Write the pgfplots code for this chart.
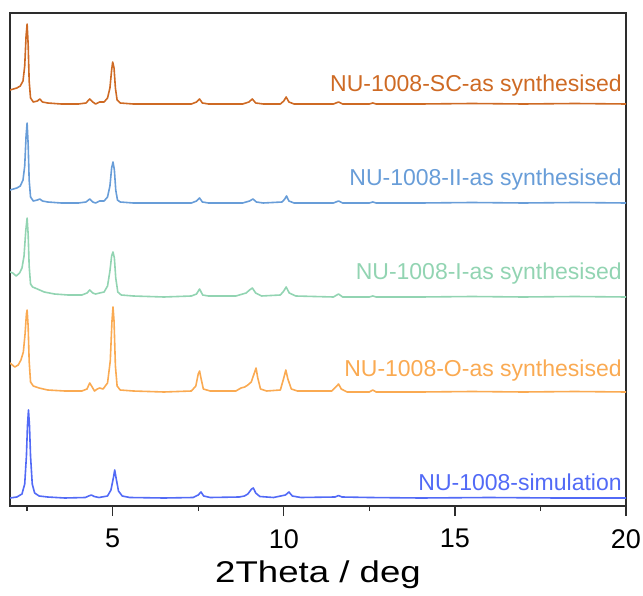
\documentclass[border=0pt]{standalone}
\usepackage{fontspec}
\setmainfont{Liberation Sans}
\usepackage{pgfplots}
\pgfplotsset{compat=1.18}

\definecolor{cSC}{RGB}{206,106,36}
\definecolor{cII}{RGB}{104,157,216}
\definecolor{cI}{RGB}{146,212,178}
\definecolor{cO}{RGB}{250,170,82}
\definecolor{cSim}{RGB}{82,106,246}
\definecolor{frame}{RGB}{45,45,45}

\begin{document}
\begin{tikzpicture}
\begin{axis}[
  scale only axis,
  width=616pt, height=493pt,
  xmin=2, xmax=20, ymin=0, ymax=493,
  axis line style={frame, line width=1.6pt},
  xtick={5,10,15,20},
  minor xtick={2.5,7.5,12.5,17.5},
  xtick pos=bottom,
  ytick=\empty,
  tick align=outside,
  major tick length=10pt,
  minor tick length=5pt,
  every tick/.style={frame, line width=1.4pt},
  /pgf/number format/assume math mode=true,
  xticklabel style={font=\fontsize{27}{31}\selectfont, inner sep=0pt, anchor=north, yshift=-13pt},
  xlabel={\scalebox{1.22}[1]{2Theta / deg}},
  xlabel style={font=\fontsize{30}{34}\selectfont, inner sep=0pt, at={(axis description cs:0.5,0)}, anchor=north, yshift=-55pt},
  every axis plot/.style={line width=1.6pt, line join=round},
  clip=true,
]
\coordinate (sw) at (rel axis cs:0,0);
\coordinate (ne) at (rel axis cs:1,1);

% NU-1008-SC-as synthesised
\addplot[cSC] coordinates {
(2.00,416) (2.10,417) (2.20,418) (2.30,420) (2.38,425) (2.43,440) (2.47,470) (2.50,482) (2.53,462) (2.56,425) (2.60,408) (2.68,404) (2.80,405) (2.87,407) (2.95,404) (3.10,403) (3.50,402) (4.00,402) (4.22,403) (4.33,407) (4.42,404) (4.50,402) (4.62,404) (4.75,404) (4.85,408) (4.92,418) (4.97,436) (5.00,444) (5.04,438) (5.08,418) (5.13,406) (5.22,403) (5.60,402) (6.50,402) (7.30,402) (7.45,404) (7.54,407) (7.62,403) (7.80,402) (8.80,402) (8.98,404) (9.08,407) (9.18,403) (9.40,402) (9.90,402) (10.00,405) (10.07,409) (10.15,404) (10.30,402) (11.45,402) (11.60,404) (11.72,402) (12.50,402) (12.60,403) (12.70,402) (14,402) (15.5,402.5) (17,402) (18.5,402.5) (20,402)
};
% NU-1008-II-as synthesised
\addplot[cII] coordinates {
(2.00,316) (2.10,317) (2.20,318) (2.30,320) (2.38,326) (2.43,340) (2.47,370) (2.50,383) (2.53,362) (2.56,326) (2.60,309) (2.68,305) (2.80,306) (2.87,307) (2.95,305) (3.10,304) (3.50,303) (4.00,303) (4.22,304) (4.33,307) (4.42,304) (4.50,303) (4.62,305) (4.75,305) (4.85,309) (4.92,320) (4.97,338) (5.01,344) (5.05,336) (5.09,316) (5.14,306) (5.22,304) (5.60,303) (6.50,303) (7.30,303) (7.45,305) (7.54,308) (7.62,304) (7.80,303) (8.80,303) (9.00,305) (9.10,307) (9.20,304) (9.40,303) (9.95,304) (10.03,307) (10.08,310) (10.15,305) (10.30,303) (11.45,303) (11.60,305) (11.72,303) (12.50,303) (12.60,304) (12.70,303) (14,303) (15.5,303.5) (17,303) (18.5,303.5) (20,303)
};
% NU-1008-I-as synthesised
\addplot[cI] coordinates {
(2.00,234) (2.08,233) (2.18,230) (2.28,233) (2.35,238) (2.41,250) (2.46,275) (2.50,288) (2.53,272) (2.56,240) (2.60,222) (2.66,219) (2.80,217) (3.00,214) (3.30,212) (3.70,211) (4.10,211) (4.25,213) (4.33,216) (4.42,213) (4.50,212) (4.62,213) (4.75,214) (4.85,220) (4.92,235) (4.97,250) (5.01,254) (5.05,248) (5.09,228) (5.15,214) (5.25,211) (5.60,210) (6.50,209) (7.30,210) (7.45,212) (7.54,217) (7.63,211) (7.80,210) (8.60,210) (8.80,212) (8.90,213) (9.00,216) (9.08,218) (9.18,213) (9.35,210) (9.90,211) (10.00,215) (10.07,219) (10.16,213) (10.35,210) (11.45,209) (11.60,212) (11.72,209) (12.50,209) (12.60,210) (12.70,209) (14,209) (15.5,209.5) (17,209) (18.5,209.5) (20,209)
};
% NU-1008-O-as synthesised
\addplot[cO] coordinates {
(2.00,143) (2.07,141) (2.14,139) (2.24,141) (2.32,146) (2.39,154) (2.44,172) (2.48,192) (2.50,196) (2.53,180) (2.56,145) (2.60,124) (2.68,120) (2.85,118) (3.10,116) (3.60,115) (4.10,115) (4.25,117) (4.33,123) (4.40,119) (4.47,115) (4.55,117) (4.62,118) (4.72,117) (4.85,123) (4.93,145) (4.98,185) (5.01,199) (5.04,185) (5.08,140) (5.13,120) (5.22,116) (5.60,115) (6.50,114) (7.30,115) (7.43,120) (7.50,132) (7.54,135) (7.58,128) (7.65,117) (7.85,115) (8.60,115) (8.75,118) (8.86,119) (8.95,121) (9.05,124) (9.13,132) (9.19,138) (9.24,128) (9.32,117) (9.50,115) (9.90,116) (10.00,128) (10.06,136) (10.12,127) (10.22,117) (10.40,115) (11.40,115) (11.55,120) (11.60,122) (11.68,117) (11.85,114) (12.50,114) (12.60,116) (12.70,114) (14,114) (15.5,114.5) (17,114) (18.5,114.5) (20,114)
};
% NU-1008-simulation
\addplot[cSim] coordinates {
(2.00,8) (2.20,9) (2.35,12) (2.43,22) (2.48,50) (2.51,80) (2.54,96) (2.57,80) (2.60,50) (2.65,22) (2.72,13) (2.85,10) (3.10,9) (3.60,8) (4.20,8.5) (4.30,10) (4.38,11) (4.46,9.5) (4.60,8.5) (4.85,10) (4.95,16) (5.02,28) (5.06,36) (5.10,28) (5.17,15) (5.28,10) (5.50,8.5) (6.50,8) (7.35,8.5) (7.50,11) (7.58,14) (7.66,10) (7.85,8.5) (8.70,9) (8.85,10) (8.95,12) (9.06,17) (9.11,18) (9.18,13) (9.30,9.5) (9.70,8.5) (10.05,11) (10.15,14) (10.25,10) (10.50,8.5) (11.50,9) (11.60,10.5) (11.70,9) (12.50,8.5) (14,8) (16,8.5) (18,8) (20,8)
};

\begin{scope}[every node/.style={anchor=east, inner sep=0pt, font=\fontsize{23}{27}\selectfont}]
\node[text=cSC]  at (axis cs:19.88,420) {NU-1008-SC-as synthesised};
\node[text=cII]  at (axis cs:19.88,326) {NU-1008-II-as synthesised};
\node[text=cI]   at (axis cs:19.88,232) {NU-1008-I-as synthesised};
\node[text=cO]   at (axis cs:19.88,135) {NU-1008-O-as synthesised};
\node[text=cSim] at (axis cs:19.88,24)  {NU-1008-simulation};
\end{scope}
\end{axis}
\pgfresetboundingbox
\path[use as bounding box] ([xshift=-10pt,yshift=-89pt]sw) rectangle ([xshift=17pt,yshift=13pt]ne);
\end{tikzpicture}
\end{document}
